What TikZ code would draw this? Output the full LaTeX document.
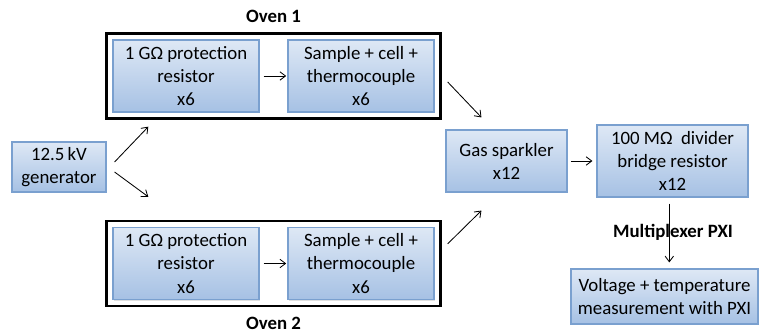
\documentclass[tikz,border=0pt]{standalone}
\usepackage{fontspec}
\setmainfont{Carlito}
\usetikzlibrary{positioning, arrows.meta, fit, shadows}
\definecolor{boxline}{RGB}{122,160,207}
\definecolor{boxtop}{RGB}{222,232,245}
\definecolor{boxbot}{RGB}{166,193,228}

\begin{document}
\begin{tikzpicture}[
  block/.style={rectangle, draw=boxline, top color=boxtop, bottom color=boxbot,
                line width=0.8pt, align=center, inner sep=1pt,
                font=\fontsize{13.4}{16.4}\selectfont,
                drop shadow={opacity=0.25, shadow xshift=0.8pt, shadow yshift=-0.8pt}},
  oven/.style={rectangle, draw=black, line width=1.6pt, inner sep=0.15cm},
  lbl/.style={font=\bfseries\fontsize{13.4}{16}\selectfont},
  arr/.style={-{Straight Barb[length=4pt, width=6pt]}, line width=0.6pt}
]
  \useasboundingbox (0,0) rectangle (19,-8.35);

  \node[block, minimum width=2.35cm, minimum height=1.25cm] (gen) at (1.475,-4.175)
    {12.5\,kV\\generator};

  % oven 1
  \node[block, minimum width=3.65cm, minimum height=1.8cm] (prot1) at (4.65,-1.9)
    {1 GΩ protection\\resistor\\x6};
  \node[block, minimum width=3.65cm, minimum height=1.8cm] (samp1) at (9.025,-1.9)
    {Sample + cell +\\thermocouple\\x6};
  \node[oven, fit=(prot1) (samp1)] (oven1) {};
  \node[lbl, above=0.12cm of oven1] (oven1lbl) {Oven 1};

  % oven 2
  \node[block, minimum width=3.65cm, minimum height=1.8cm] (prot2) at (4.65,-6.5875)
    {1 GΩ protection\\resistor\\x6};
  \node[block, minimum width=3.65cm, minimum height=1.8cm] (samp2) at (9.025,-6.5875)
    {Sample + cell +\\thermocouple\\x6};
  \node[oven, fit=(prot2) (samp2)] (oven2) {};
  \node[lbl, below=0.12cm of oven2] (oven2lbl) {Oven 2};

  \node[block, minimum width=3.025cm, minimum height=1.55cm] (gas) at (12.6625,-4.025)
    {Gas sparkler\\x12};
  \node[block, minimum width=3.775cm, minimum height=1.8cm] (div) at (16.8125,-4.025)
    {100 MΩ\ \ divider\\bridge resistor\\x12};
  \node[block, minimum width=4.675cm, minimum height=1.375cm] (meas) at (16.6125,-7.4125)
    {Voltage + temperature\\measurement with PXI};

  \draw[arr] ([xshift=0.2cm, yshift=0.125cm]gen.east)
    -- ([xshift=1.075cm, yshift=-0.175cm]oven1.south west);
  \draw[arr] ([xshift=0.2cm, yshift=-0.125cm]gen.east)
    -- ([xshift=1.075cm, yshift=0.575cm]oven2.north west);

  \draw[arr, shorten <=0.1cm, shorten >=0.03cm] (prot1) -- (samp1);
  \draw[arr, shorten <=0.1cm, shorten >=0.03cm] (prot2) -- (samp2);

  \draw[arr] ([xshift=0.15cm, yshift=-0.15cm]oven1.east)
    -- ([xshift=0.9cm, yshift=0.3cm]gas.south west |- gas.north);
  \draw[arr] ([xshift=0.15cm, yshift=-0.6cm]oven2.north east)
    -- ([xshift=0.9cm, yshift=-0.45cm]gas.south west);

  \draw[arr, shorten <=0.08cm, shorten >=0.1cm] (gas) -- (div);
  \draw[arr, shorten <=0.15cm, shorten >=0.15cm] ([xshift=-0.08cm]div.south)
    -- ([xshift=-0.08cm]div.south |- meas.north);
  \node[lbl] (mux) at (16.825,-5.8) {Multiplexer PXI};
\end{tikzpicture}
\end{document}
